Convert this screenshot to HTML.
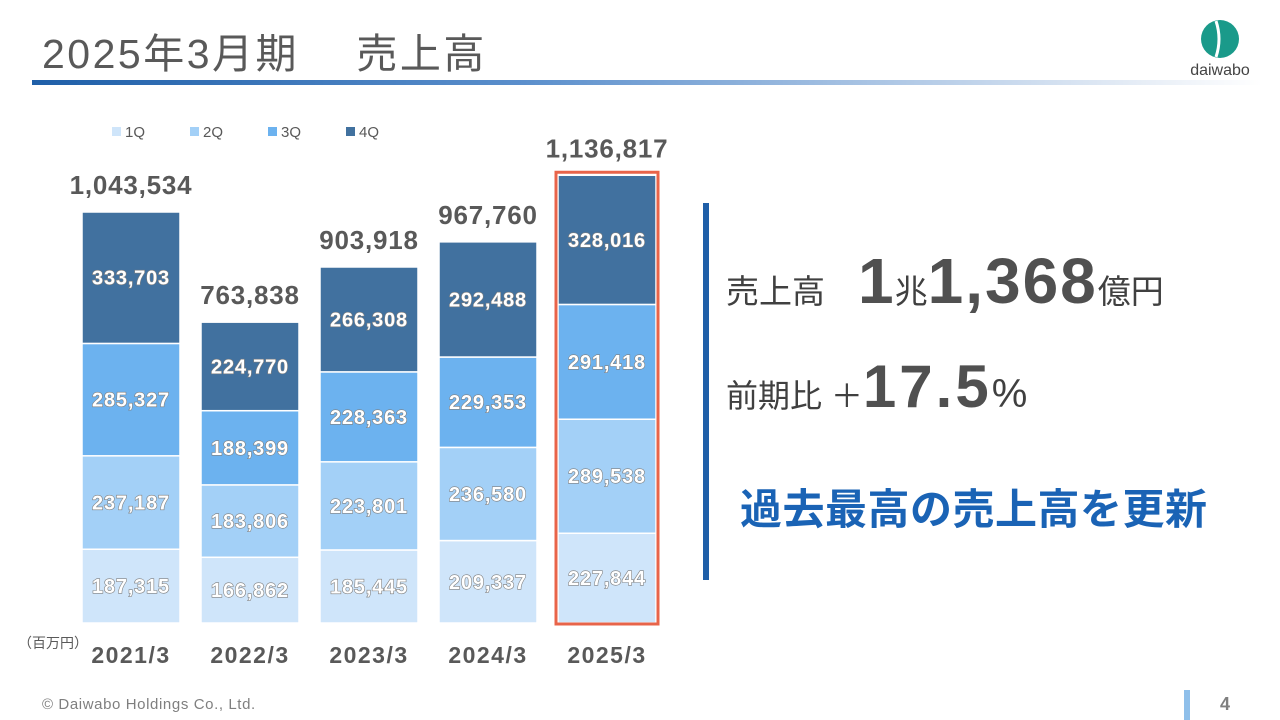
<!DOCTYPE html>
<html><head><meta charset="utf-8"><style>
body{margin:0;width:1280px;height:720px;background:#fff;position:relative;overflow:hidden;font-family:"Liberation Sans","Noto Sans CJK JP",sans-serif;color:#595959}
.a{position:absolute}
</style></head><body>
<div class="a" style="left:42px;top:20px;font-size:41px;color:#595959;white-space:nowrap;letter-spacing:2.5px">2025年3月期　 売上高</div>
<div class="a" style="left:32px;top:80px;width:1230px;height:5px;background:linear-gradient(90deg,#1f5fa8 0%,#5b8fcc 40%,#e6edf6 90%,#fff 100%)"></div>
<svg class="a" style="left:1180px;top:14px" width="80" height="66">
<circle cx="40" cy="25" r="19" fill="#1a9a8a"/>
<path d="M36 7 Q42 25 36 43" stroke="#fff" stroke-width="3" fill="none"/>
<text x="40" y="61" text-anchor="middle" font-size="16" fill="#444" font-family="Liberation Sans">daiwabo</text>
</svg>
<svg class="a" style="left:0;top:0" width="700" height="690" id="chart"></svg>
<div class="a" style="left:703px;top:203px;width:6px;height:377px;background:#1f5fa8"></div>
<div class="a" style="left:726px;top:244px;white-space:nowrap;color:#404040"><span style="font-size:33px">売上高　</span><span style="font-size:64px;font-weight:bold;color:#505050;letter-spacing:1px">1</span><span style="font-size:33px">兆</span><span style="font-size:64px;font-weight:bold;color:#505050;letter-spacing:2px">1,368</span><span style="font-size:33px">億円</span></div>
<div class="a" style="left:726px;top:352px;white-space:nowrap;color:#404040"><span style="font-size:32px">前期比 ＋</span><span style="font-size:60px;font-weight:bold;color:#505050;letter-spacing:3px">17.5</span><span style="font-size:40px">%</span></div>
<div class="a" style="left:740px;top:476px;font-size:42px;font-weight:bold;color:#1a63b5;white-space:nowrap;letter-spacing:0.5px">過去最高の売上高を更新</div>
<div class="a" style="left:42px;top:696px;font-size:15px;color:#7f7f7f;letter-spacing:0.6px">© Daiwabo Holdings Co., Ltd.</div>
<div class="a" style="left:1184px;top:690px;width:6px;height:30px;background:#8fbfea"></div>
<div class="a" style="left:1220px;top:694px;font-size:18px;font-weight:bold;color:#7f7f7f">4</div>
<script>
const categories=["2021/3","2022/3","2023/3","2024/3","2025/3"];
const q1=[187315,166862,185445,209337,227844];
const q2=[237187,183806,223801,236580,289538];
const q3=[285327,188399,228363,229353,291418];
const q4=[333703,224770,266308,292488,328016];
const totals=["1,043,534","763,838","903,918","967,760","1,136,817"];
const seriesNames=["1Q","2Q","3Q","4Q"];
const colors=["#cfe5fa","#a3d0f7","#6cb2ef","#41719f"];
const svg=document.getElementById('chart');const NS="http://www.w3.org/2000/svg";
const base=623,k=411/1043534,x0=82,step=119,bw=98;
const y=v=>base-v*k;const xc=i=>x0+i*step;
function mk(t,at){const e=document.createElementNS(NS,t);for(const a in at)e.setAttribute(a,at[a]);svg.appendChild(e);return e;}
const fmt=v=>v.toLocaleString('en-US');
const series=[q1,q2,q3,q4];
categories.forEach((c,i)=>{let cum=0;
series.forEach((s,j)=>{const v=s[i];const r=mk('rect',{x:xc(i),y:y(cum+v),width:bw,height:v*k,fill:colors[j],stroke:'#fff','stroke-width':1.5});

const t=mk('text',{x:xc(i)+bw/2,y:y(cum+v/2)+7,'text-anchor':'middle','font-size':20,'font-weight':'bold',fill:'#fff',stroke:'#7f7f7f','stroke-width':1.2,'paint-order':'stroke','font-family':'Liberation Sans','letter-spacing':0.8});
t.textContent=fmt(v);cum+=v;});
const tt=mk('text',{x:xc(i)+bw/2,y:y(cum)-18,'text-anchor':'middle','font-size':26,'font-weight':'bold',fill:'#595959','font-family':'Liberation Sans','letter-spacing':0.8});
tt.textContent=totals[i];
const ct=mk('text',{x:xc(i)+bw/2,y:663,'text-anchor':'middle','font-size':23,'font-weight':'bold',fill:'#595959','font-family':'Liberation Sans','letter-spacing':1.5});
ct.textContent=c;
if(i===4){const h=mk('rect',{x:xc(i)-2,y:y(cum)-3,width:bw+4,height:base-y(cum)+4,fill:'none',stroke:'#e8644a','stroke-width':3});}
});
seriesNames.forEach((n,j)=>{const lx=112+j*78;
const r=mk('rect',{x:lx,y:127,width:9,height:9,fill:colors[j]});
const t=mk('text',{x:lx+13,y:137,'font-size':15,fill:'#595959','font-family':'Liberation Sans'});t.textContent=n;});
const u=mk('text',{x:18,y:648,'font-size':14,fill:'#595959','font-family':'Noto Sans CJK JP'});u.textContent="（百万円）";
</script>
</body></html>
